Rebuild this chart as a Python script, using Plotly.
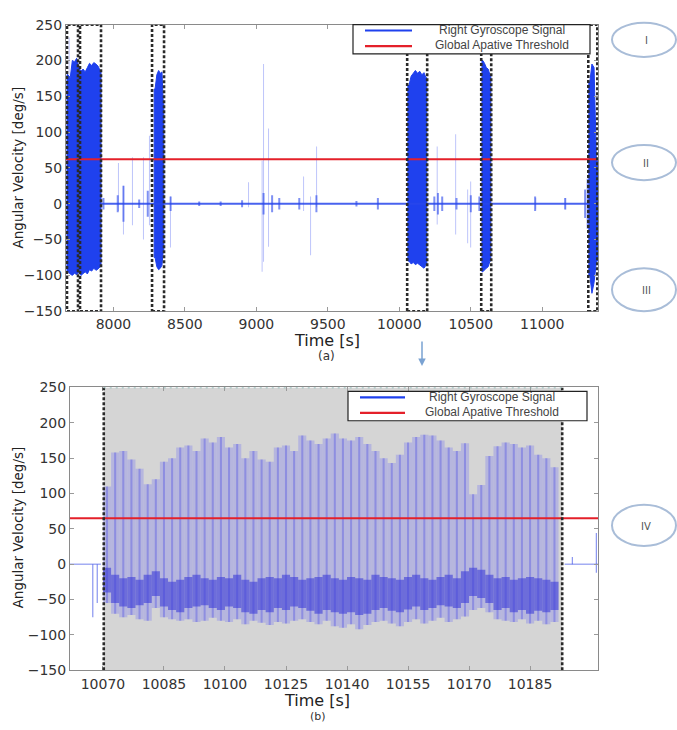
import plotly.graph_objects as go

W, H = 677, 730

# ---------------- Panel (a): overview ----------------
a_xticks = [8000, 8500, 9000, 9500, 10000, 10500, 11000]
a_xtext = ['8000', '8500', '9000', '9500', '10000', '10500', '11000']
y_ticks = [-150, -100, -50, 0, 50, 100, 150, 200, 250]

# dense gait bursts (envelope of the oscillating gyroscope signal)
burst_start = [7675, 7690, 7705, 7720, 7735, 7750, 7765, 7780, 7795, 7810, 7825, 7840, 7855, 7870, 7885, 7900,
               8285, 8297, 8310, 8322, 8334, 8345,
               10060, 10075, 10090, 10105, 10120, 10135, 10150, 10165, 10180,
               10578, 10590, 10602, 10615, 10628,
               11326, 11340, 11355, 11370]
burst_end = [7690, 7705, 7720, 7735, 7750, 7765, 7780, 7795, 7810, 7825, 7840, 7855, 7870, 7885, 7900, 7913,
             8297, 8310, 8322, 8334, 8345, 8352,
             10075, 10090, 10105, 10120, 10135, 10150, 10165, 10180, 10192,
             10590, 10602, 10615, 10628, 10640,
             11340, 11355, 11370, 11388]
burst_max = [180, 176, 200, 198, 203, 190, 185, 188, 184, 190, 196, 193, 197, 195, 192, 186,
             160, 180, 186, 182, 184, 140,
             165, 178, 183, 186, 182, 185, 180, 183, 176,
             200, 196, 190, 188, 180,
             170, 195, 190, 60]
burst_min = [-95, -98, -100, -97, -99, -96, -100, -97, -95, -98, -92, -94, -90, -93, -91, -88,
             -75, -88, -92, -90, -86, -65,
             -80, -84, -82, -85, -83, -86, -88, -90, -86,
             -95, -93, -90, -88, -80,
             -100, -125, -110, -80]

# isolated faint spikes
spike_t  = [7690, 8035, 8070, 8133, 8210, 8252, 8399, 8945, 9040, 9050, 9085, 9330, 9379, 9421, 10265, 10394, 10478, 10499, 10954, 11164]
spike_hi = [232, 57, 25, 65, 65, 95, 10, 30, 60, 195, 105, 38, 10, 80, 80, 97, 20, 31, 8, 8]
spike_lo = [180, -10, -43, -30, -50, -30, -61, -5, -95, -81, -60, -10, -72, -5, -29, -43, -55, -61, -8, -8]

# small noise clusters around zero
noise_t   = [7930, 8030, 8070, 8180, 8240, 8400, 8600, 8750, 8900, 9050, 9110, 9160, 9300, 9420, 9700, 9850, 10245, 10270, 10300, 10400, 10500, 10560, 10950, 11160, 11300, 11318]
noise_amp = [8, 12, 25, 6, 18, 10, 3, 3, 5, 15, 12, 8, 8, 12, 4, 8, 10, 15, 10, 8, 12, 10, 10, 8, 20, 35]

baseline_t = [7912, 11326]
baseline_v = [0, 0]

# detected activity windows (dotted boxes)
box_start = [7675, 7766, 8270, 10055, 10573, 11322]
box_end   = [7752, 7913, 8354, 10195, 10643, 11385]

threshold_a = 62

# ---------------- Panel (b): zoom ----------------
b_tickvals = [10070, 10085, 10100, 10115, 10130, 10145, 10160, 10175]
b_ticktext = ['10070', '10085', '10100', '10125', '10140', '10155', '10170', '10185']

window_start, window_end = 10070.2, 10182.9

cycle_t = [10071, 10073, 10075, 10077, 10079, 10081, 10083, 10085, 10087, 10089,
           10091, 10093, 10095, 10097, 10099, 10101, 10103, 10105, 10107, 10109,
           10111, 10113, 10115, 10117, 10119, 10121, 10123, 10125, 10127, 10129,
           10131, 10133, 10135, 10137, 10139, 10141, 10143, 10145, 10147, 10149,
           10151, 10153, 10155, 10157, 10159, 10161, 10163, 10165, 10167, 10169,
           10171, 10173, 10175, 10177, 10179, 10181]
cycle_peak = [110, 158, 160, 148, 135, 113, 120, 145, 150, 165,
              168, 160, 178, 172, 180, 165, 170, 150, 160, 148,
              145, 165, 168, 160, 182, 175, 170, 178, 185, 178,
              175, 180, 170, 160, 150, 143, 155, 172, 180, 183,
              182, 175, 165, 160, 171, 99, 112, 153, 167, 172,
              170, 165, 168, 155, 150, 137]
cycle_low = [-55, -70, -75, -72, -78, -80, -62, -75, -78, -80,
             -78, -82, -80, -76, -80, -82, -78, -85, -80, -83,
             -86, -82, -84, -80, -78, -82, -85, -80, -88, -90,
             -85, -92, -86, -82, -80, -84, -88, -82, -78, -84,
             -80, -76, -82, -78, -74, -65, -62, -68, -78, -80,
             -82, -78, -84, -80, -85, -82]
band_top = [-5, -15, -20, -18, -22, -15, -10, -20, -25, -22,
            -18, -15, -20, -22, -18, -20, -15, -22, -25, -20,
            -18, -20, -15, -18, -22, -20, -18, -15, -20, -22,
            -18, -20, -22, -15, -18, -20, -22, -18, -15, -20,
            -22, -18, -15, -20, -10, -5, -8, -15, -20, -18,
            -22, -20, -18, -20, -22, -25]
band_bot = [-40, -55, -60, -62, -58, -55, -45, -60, -65, -68,
            -62, -60, -58, -62, -65, -60, -62, -68, -70, -65,
            -68, -62, -65, -60, -62, -66, -70, -65, -68, -70,
            -68, -72, -70, -65, -62, -66, -68, -64, -60, -65,
            -62, -58, -60, -62, -55, -45, -48, -55, -65, -62,
            -68, -65, -70, -66, -68, -65]

edge_t  = [10067.5, 10068.6, 10185.4, 10191.3]
edge_hi = [0, 0, 10, 44]
edge_lo = [-75, -55, 0, -12]
edge_base_t = [10061.9, 10069.5, 10183.5, 10191.7]
edge_base_v = [0, 0, 0, 0]

threshold_b = 65

# ---------------- styles ----------------
BLUE = '#1f41ee'
RED = '#e4202a'
TICKFONT = dict(family='DejaVu Sans', size=14, color='#333333')

fig = go.Figure()

# Panel (a): each contiguous burst drawn as one filled envelope polygon
groups = []
for s, e, hi, lo in zip(burst_start, burst_end, burst_max, burst_min):
    if groups and abs(groups[-1][-1][1] - s) < 1e-9:
        groups[-1].append((s, e, hi, lo))
    else:
        groups.append([(s, e, hi, lo)])
for g in groups:
    xs = [g[0][0]] + [(s + e) / 2 for s, e, _, _ in g] + [g[-1][1]]
    top = [g[0][2]] + [hi for _, _, hi, _ in g] + [g[-1][2]]
    bot = [g[0][3]] + [lo for _, _, _, lo in g] + [g[-1][3]]
    px_ = xs + xs[::-1] + [xs[0]]
    py_ = top + bot[::-1] + [top[0]]
    fig.add_trace(go.Scatter(x=px_, y=py_, mode='lines', fill='toself', fillcolor=BLUE,
                             line=dict(color=BLUE, width=1), xaxis='x', yaxis='y',
                             showlegend=False, hoverinfo='skip'))

fig.add_trace(go.Bar(
    x=spike_t, y=[h - l for h, l in zip(spike_hi, spike_lo)], base=spike_lo, width=7,
    marker=dict(color='rgba(70,90,240,0.35)', line=dict(width=0)),
    xaxis='x', yaxis='y', showlegend=False, hoverinfo='skip'))
fig.add_trace(go.Scatter(
    x=baseline_t, y=baseline_v, mode='lines', line=dict(color='rgba(40,70,235,0.85)', width=1.8),
    xaxis='x', yaxis='y', showlegend=False, hoverinfo='skip'))
fig.add_trace(go.Bar(
    x=noise_t, y=[2 * a for a in noise_amp], base=[-a for a in noise_amp], width=14,
    marker=dict(color='rgba(40,70,235,0.6)', line=dict(width=0)),
    xaxis='x', yaxis='y', showlegend=False, hoverinfo='skip'))
fig.add_trace(go.Scatter(
    x=[7668, 11390], y=[threshold_a, threshold_a], mode='lines', line=dict(color=RED, width=2),
    xaxis='x', yaxis='y', showlegend=False, hoverinfo='skip'))

# Panel (b) traces
fig.add_trace(go.Bar(
    x=cycle_t, y=[p - l for p, l in zip(cycle_peak, cycle_low)], base=cycle_low, width=2.0,
    marker=dict(color='rgba(140,140,235,0.42)', line=dict(width=0)),
    xaxis='x2', yaxis='y2', showlegend=False, hoverinfo='skip'))
fig.add_trace(go.Bar(
    x=cycle_t, y=[p - l for p, l in zip(cycle_peak, cycle_low)], base=cycle_low, width=0.5,
    marker=dict(color='rgba(110,110,225,0.55)', line=dict(width=0)),
    xaxis='x2', yaxis='y2', showlegend=False, hoverinfo='skip'))
fig.add_trace(go.Bar(
    x=cycle_t, y=[t - b for t, b in zip(band_top, band_bot)], base=band_bot, width=2.0,
    marker=dict(color='rgba(60,60,215,0.6)', line=dict(width=0)),
    xaxis='x2', yaxis='y2', showlegend=False, hoverinfo='skip'))
fig.add_trace(go.Bar(
    x=edge_t, y=[h - l for h, l in zip(edge_hi, edge_lo)], base=edge_lo, width=0.3,
    marker=dict(color='rgba(60,80,230,0.6)', line=dict(width=0)),
    xaxis='x2', yaxis='y2', showlegend=False, hoverinfo='skip'))
fig.add_trace(go.Scatter(
    x=edge_base_t[:2], y=edge_base_v[:2], mode='lines', line=dict(color='rgba(60,80,230,0.7)', width=1),
    xaxis='x2', yaxis='y2', showlegend=False, hoverinfo='skip'))
fig.add_trace(go.Scatter(
    x=edge_base_t[2:], y=edge_base_v[2:], mode='lines', line=dict(color='rgba(60,80,230,0.7)', width=1),
    xaxis='x2', yaxis='y2', showlegend=False, hoverinfo='skip'))
fig.add_trace(go.Scatter(
    x=[10061.9, 10191.7], y=[threshold_b, threshold_b], mode='lines', line=dict(color=RED, width=2),
    xaxis='x2', yaxis='y2', showlegend=False, hoverinfo='skip'))

shapes = []
DOT = '3px,2px'
for s, e in zip(box_start, box_end):
    shapes.append(dict(type='rect', xref='x', yref='y', x0=s, x1=e, y0=-150, y1=250,
                       line=dict(color='#2a2a2a', width=2.6, dash=DOT), layer='above'))
# grey analysis window in (b)
shapes.append(dict(type='rect', xref='x2', yref='y2', x0=window_start, x1=window_end, y0=-150, y1=250,
                   fillcolor='#d5d5d5', line=dict(width=0), layer='below'))
for xv in (window_start, window_end):
    shapes.append(dict(type='line', xref='x2', yref='y2', x0=xv, x1=xv, y0=-150, y1=250,
                       line=dict(color='#2a2a2a', width=2.6, dash=DOT), layer='above'))
shapes.append(dict(type='line', xref='x2', yref='y2', x0=window_start, x1=window_end, y0=250, y1=250,
                   line=dict(color='#7fb3b0', width=1.5, dash='2px,4px'), layer='above'))


def px(x):
    return x / W


def py(y):
    return 1 - y / H


annotations = []
# manual legends
for (bx0, by0, bx1, by1, lx0, lx1, ly1, ly2, tx, ty1, ty2) in [
        (353, 17, 590, 47, 365, 412, 23, 39, 502, 23, 38),
        (348, 392, 587, 422, 360, 405, 398, 414, 492, 398, 413)]:
    shapes.append(dict(type='rect', xref='paper', yref='paper', x0=px(bx0), x1=px(bx1), y0=py(by1), y1=py(by0),
                       fillcolor='white', line=dict(color='#222222', width=1.2), layer='above'))
    shapes.append(dict(type='line', xref='paper', yref='paper', x0=px(lx0), x1=px(lx1), y0=py(ly1), y1=py(ly1),
                       line=dict(color=BLUE, width=2.2), layer='above'))
    shapes.append(dict(type='line', xref='paper', yref='paper', x0=px(lx0), x1=px(lx1), y0=py(ly2), y1=py(ly2),
                       line=dict(color=RED, width=2.2), layer='above'))
    annotations.append(dict(text='Right Gyroscope Signal', x=px(tx), y=py(ty1), xref='paper', yref='paper',
                            showarrow=False, font=dict(family='Liberation Sans', size=12, color='#444444'),
                            xanchor='center', yanchor='middle'))
    annotations.append(dict(text='Global Apative Threshold', x=px(tx), y=py(ty2), xref='paper', yref='paper',
                            showarrow=False, font=dict(family='Liberation Sans', size=12, color='#444444'),
                            xanchor='center', yanchor='middle'))

# roman numeral callouts
for label, (x0, y0, x1, y1) in [('I', (612, 15, 676, 50)), ('II', (612, 140, 676, 176)),
                                ('III', (612, 266, 676, 310)), ('IV', (612, 508, 676, 550))]:
    shapes.append(dict(type='circle', xref='paper', yref='paper', x0=px(x0), x1=px(x1), y0=py(y1), y1=py(y0),
                       line=dict(color='#a9bdd8', width=2)))
    annotations.append(dict(text=label, x=px((x0 + x1) / 2 + 2), y=py((y0 + y1) / 2 + 1), xref='paper', yref='paper',
                            showarrow=False, font=dict(family='DejaVu Sans', size=10, color='#555555'),
                            xanchor='center', yanchor='middle'))

# titles
TITLEFONT = dict(family='DejaVu Sans', size=13.5, color='#222222')
annotations += [
    dict(text='Angular Velocity [deg/s]', x=px(18), y=py(163), xref='paper', yref='paper', textangle=-90,
         showarrow=False, font=TITLEFONT, xanchor='center', yanchor='middle'),
    dict(text='Angular Velocity [deg/s]', x=px(18), y=py(531), xref='paper', yref='paper', textangle=-90,
         showarrow=False, font=TITLEFONT, xanchor='center', yanchor='middle'),
    dict(text='Time [s]', x=px(327), y=py(340), xref='paper', yref='paper', showarrow=False,
         font=dict(family='DejaVu Sans', size=16, color='#222222'), xanchor='center', yanchor='middle'),
    dict(text='(a)', x=px(326), y=py(356), xref='paper', yref='paper', showarrow=False,
         font=dict(family='DejaVu Sans', size=12, color='#333333'), xanchor='center', yanchor='middle'),
    dict(text='Time [s]', x=px(317), y=py(708), xref='paper', yref='paper', showarrow=False,
         font=dict(family='DejaVu Sans', size=16, color='#222222'), xanchor='center', yanchor='middle'),
    dict(text='(b)', x=px(318), y=py(724), xref='paper', yref='paper', showarrow=False,
         font=dict(family='DejaVu Sans', size=11, color='#333333'), xanchor='center', yanchor='middle'),
    dict(text='', x=px(422), y=py(366), xref='paper', yref='paper', ax=0, ay=-26, showarrow=True,
         arrowhead=2, arrowsize=1, arrowwidth=1.5, arrowcolor='#7aa2d2'),
]

axis_common = dict(showgrid=False, zeroline=False, showline=True, linecolor='#8a8a8a', linewidth=1,
                   mirror='ticks', ticks='inside', ticklen=4, tickcolor='#9a9a9a', tickfont=TICKFONT)

fig.update_layout(
    width=W, height=H, margin=dict(l=0, r=0, t=0, b=0),
    paper_bgcolor='white', plot_bgcolor='white', barmode='overlay', showlegend=False,
    xaxis=dict(domain=[px(66), px(598)], range=[7668, 11390], tickvals=a_xticks, ticktext=a_xtext,
               anchor='y', **axis_common),
    yaxis=dict(domain=[py(310), py(17)], range=[-150, 250], tickvals=y_ticks, anchor='x', **axis_common),
    xaxis2=dict(domain=[px(70), px(598)], range=[10061.9, 10191.7], tickvals=b_tickvals, ticktext=b_ticktext,
                anchor='y2', ticklabelstandoff=1, **axis_common),
    yaxis2=dict(domain=[py(677), py(388)], range=[-150, 250], tickvals=y_ticks, anchor='x2', **axis_common),
    shapes=shapes, annotations=annotations,
)

fig.write_html('out.html')
